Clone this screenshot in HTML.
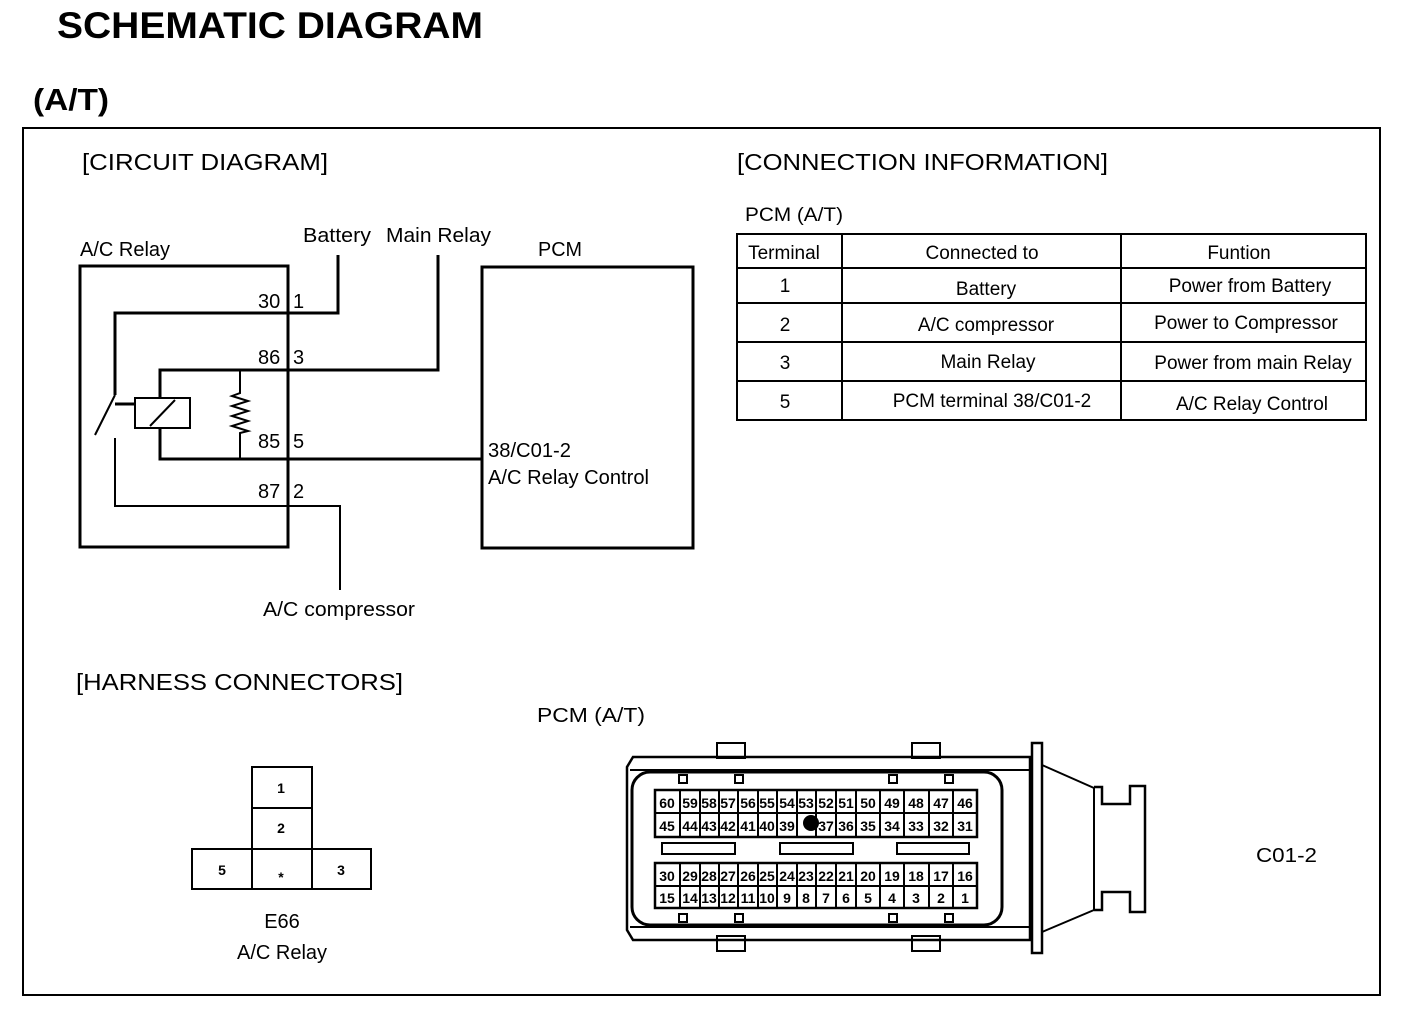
<!DOCTYPE html>
<html><head><meta charset="utf-8"><style>
body{margin:0;background:#fff}
svg{display:block}
text{font-family:"Liberation Sans",sans-serif;fill:#000}
.p{font-size:14px;font-weight:bold;text-anchor:middle}
</style></head><body>
<svg width="1408" height="1016" viewBox="0 0 1408 1016" xmlns="http://www.w3.org/2000/svg">
<text x="57" y="38" font-size="37" font-weight="bold" textLength="426" lengthAdjust="spacingAndGlyphs">SCHEMATIC DIAGRAM</text>
<text x="33" y="110" font-size="31" font-weight="bold" textLength="76" lengthAdjust="spacingAndGlyphs">(A/T)</text>
<rect x="23" y="128" width="1357" height="867" fill="none" stroke="#000" stroke-width="2"/>

<text x="82" y="170" font-size="23" textLength="246" lengthAdjust="spacingAndGlyphs">[CIRCUIT DIAGRAM]</text>
<text x="737" y="170" font-size="23" textLength="371" lengthAdjust="spacingAndGlyphs">[CONNECTION INFORMATION]</text>
<text x="76" y="690" font-size="23" textLength="327" lengthAdjust="spacingAndGlyphs">[HARNESS CONNECTORS]</text>

<g font-size="20">
<text x="80" y="256" textLength="90" lengthAdjust="spacingAndGlyphs">A/C Relay</text>
<text x="303" y="242" textLength="68" lengthAdjust="spacingAndGlyphs">Battery</text>
<text x="386" y="242" textLength="105" lengthAdjust="spacingAndGlyphs">Main Relay</text>
<text x="538" y="256" textLength="44" lengthAdjust="spacingAndGlyphs">PCM</text>
<text x="263" y="616" textLength="152" lengthAdjust="spacingAndGlyphs">A/C compressor</text>
<text x="488" y="457" textLength="83" lengthAdjust="spacingAndGlyphs">38/C01-2</text>
<text x="488" y="484" textLength="161" lengthAdjust="spacingAndGlyphs">A/C Relay Control</text>
<text x="258" y="308">30</text><text x="293" y="308">1</text>
<text x="258" y="364">86</text><text x="293" y="364">3</text>
<text x="258" y="448">85</text><text x="293" y="448">5</text>
<text x="258" y="498">87</text><text x="293" y="498">2</text>
</g>
<g fill="none" stroke="#000" stroke-width="3">
<rect x="80" y="266" width="208" height="281"/>
<rect x="482" y="267" width="211" height="281"/>
<polyline points="115,395 115,313 338,313 338,255"/>
<polyline points="160,398 160,370 438,370 438,255"/>
<polyline points="160,428 160,459 481,459"/>
<line x1="115" y1="404" x2="135" y2="404"/>
<rect x="135" y="398" width="55" height="30" stroke-width="2"/>
<line x1="150" y1="426" x2="175" y2="400" stroke-width="2"/>
<polyline points="240,370 240,393 232,396 248,401 232,406 248,411 232,416 248,421 232,426 248,431 240,433 240,459" stroke-width="2"/>
</g>
<g fill="none" stroke="#000" stroke-width="2">
<line x1="115" y1="395" x2="95" y2="435"/>
<polyline points="115,438 115,506 340,506 340,590"/>
</g>

<text x="745" y="221" font-size="19" textLength="98" lengthAdjust="spacingAndGlyphs">PCM (A/T)</text>
<g fill="none" stroke="#000" stroke-width="2">
<rect x="737" y="234" width="629" height="186"/>
<line x1="737" y1="268" x2="1366" y2="268"/>
<line x1="737" y1="303" x2="1366" y2="303"/>
<line x1="737" y1="342" x2="1366" y2="342"/>
<line x1="737" y1="381" x2="1366" y2="381"/>
<line x1="842" y1="234" x2="842" y2="420"/>
<line x1="1121" y1="234" x2="1121" y2="420"/>
</g>
<g font-size="19" text-anchor="middle">
<text x="784" y="259">Terminal</text><text x="982" y="259">Connected to</text><text x="1239" y="259">Funtion</text>
<text x="785" y="292">1</text><text x="986" y="295">Battery</text><text x="1250" y="292">Power from Battery</text>
<text x="785" y="331">2</text><text x="986" y="331">A/C compressor</text><text x="1246" y="329">Power to Compressor</text>
<text x="785" y="369">3</text><text x="988" y="368">Main Relay</text><text x="1253" y="369">Power from main Relay</text>
<text x="785" y="408">5</text><text x="992" y="407">PCM terminal 38/C01-2</text><text x="1252" y="410">A/C Relay Control</text>
</g>

<g fill="none" stroke="#000" stroke-width="2">
<rect x="252" y="767" width="60" height="41"/>
<rect x="252" y="808" width="60" height="41"/>
<rect x="192" y="849" width="179" height="40"/>
<line x1="252" y1="849" x2="252" y2="889"/><line x1="312" y1="849" x2="312" y2="889"/>
</g>
<text x="281" y="793" class="p">1</text><text x="281" y="833" class="p">2</text><text x="222" y="875" class="p">5</text><text x="281" y="882" class="p" font-size="22">*</text><text x="341" y="875" class="p">3</text>
<text x="282" y="928" font-size="20" text-anchor="middle">E66</text>
<text x="282" y="959" font-size="20" text-anchor="middle">A/C Relay</text>

<text x="537" y="722" font-size="20" textLength="108" lengthAdjust="spacingAndGlyphs">PCM (A/T)</text>
<text x="1256" y="862" font-size="20" textLength="61" lengthAdjust="spacingAndGlyphs">C01-2</text>

<g fill="none" stroke="#000" stroke-width="2">
<rect x="717" y="743" width="28" height="15" fill="#fff"/>
<rect x="912" y="743" width="28" height="15" fill="#fff"/>
<rect x="717" y="936" width="28" height="15" fill="#fff"/>
<rect x="912" y="936" width="28" height="15" fill="#fff"/>
<path d="M633,757 L1030,757 L1030,940 L633,940 L627,930 L627,767 Z" stroke-width="2.5"/>
<path d="M630,770 L1030,770 M630,927 L1030,927"/>
<rect x="632" y="772" width="370" height="153" rx="18" stroke-width="3"/>
<rect x="1032" y="743" width="10" height="210" stroke-width="2.5"/>
<polyline points="1042,765 1094,788 1094,910 1042,932"/>
<polyline points="1094,787 1102,787 1102,804 1130,804 1130,786 1145,786 1145,912 1130,912 1130,892 1102,892 1102,910 1094,910" stroke-width="2.5"/>
<rect x="679" y="775" width="8" height="8"/><rect x="735" y="775" width="8" height="8"/><rect x="889" y="775" width="8" height="8"/><rect x="945" y="775" width="8" height="8"/>
<rect x="679" y="914" width="8" height="8"/><rect x="735" y="914" width="8" height="8"/><rect x="889" y="914" width="8" height="8"/><rect x="945" y="914" width="8" height="8"/>
<rect x="662" y="843" width="73" height="11"/><rect x="780" y="843" width="73" height="11"/><rect x="897" y="843" width="72" height="11"/>
<rect x="655" y="790" width="322" height="47" stroke-width="2.5"/>
<rect x="655" y="863" width="322" height="45" stroke-width="2.5"/>
<line x1="655" y1="813" x2="977" y2="813"/><line x1="655" y1="886" x2="977" y2="886"/>
<path d="M680,790V837M700,790V837M719,790V837M738,790V837M758,790V837M777,790V837M797,790V837M816,790V837M836,790V837M856,790V837M880,790V837M904,790V837M929,790V837M953,790V837"/>
<path d="M680,863V908M700,863V908M719,863V908M738,863V908M758,863V908M777,863V908M797,863V908M816,863V908M836,863V908M856,863V908M880,863V908M904,863V908M929,863V908M953,863V908"/>
</g>
<circle cx="811" cy="823" r="8" fill="#000"/>
<g>
<text class="p" x="667" y="808">60</text><text class="p" x="690" y="808">59</text><text class="p" x="709" y="808">58</text><text class="p" x="728" y="808">57</text><text class="p" x="748" y="808">56</text><text class="p" x="767" y="808">55</text><text class="p" x="787" y="808">54</text><text class="p" x="806" y="808">53</text><text class="p" x="826" y="808">52</text><text class="p" x="846" y="808">51</text><text class="p" x="868" y="808">50</text><text class="p" x="892" y="808">49</text><text class="p" x="916" y="808">48</text><text class="p" x="941" y="808">47</text><text class="p" x="965" y="808">46</text>
<text class="p" x="667" y="831">45</text><text class="p" x="690" y="831">44</text><text class="p" x="709" y="831">43</text><text class="p" x="728" y="831">42</text><text class="p" x="748" y="831">41</text><text class="p" x="767" y="831">40</text><text class="p" x="787" y="831">39</text><text class="p" x="826" y="831">37</text><text class="p" x="846" y="831">36</text><text class="p" x="868" y="831">35</text><text class="p" x="892" y="831">34</text><text class="p" x="916" y="831">33</text><text class="p" x="941" y="831">32</text><text class="p" x="965" y="831">31</text>
<text class="p" x="667" y="881">30</text><text class="p" x="690" y="881">29</text><text class="p" x="709" y="881">28</text><text class="p" x="728" y="881">27</text><text class="p" x="748" y="881">26</text><text class="p" x="767" y="881">25</text><text class="p" x="787" y="881">24</text><text class="p" x="806" y="881">23</text><text class="p" x="826" y="881">22</text><text class="p" x="846" y="881">21</text><text class="p" x="868" y="881">20</text><text class="p" x="892" y="881">19</text><text class="p" x="916" y="881">18</text><text class="p" x="941" y="881">17</text><text class="p" x="965" y="881">16</text>
<text class="p" x="667" y="903">15</text><text class="p" x="690" y="903">14</text><text class="p" x="709" y="903">13</text><text class="p" x="728" y="903">12</text><text class="p" x="748" y="903">11</text><text class="p" x="767" y="903">10</text><text class="p" x="787" y="903">9</text><text class="p" x="806" y="903">8</text><text class="p" x="826" y="903">7</text><text class="p" x="846" y="903">6</text><text class="p" x="868" y="903">5</text><text class="p" x="892" y="903">4</text><text class="p" x="916" y="903">3</text><text class="p" x="941" y="903">2</text><text class="p" x="965" y="903">1</text>
</g>
</svg>
</body></html>
